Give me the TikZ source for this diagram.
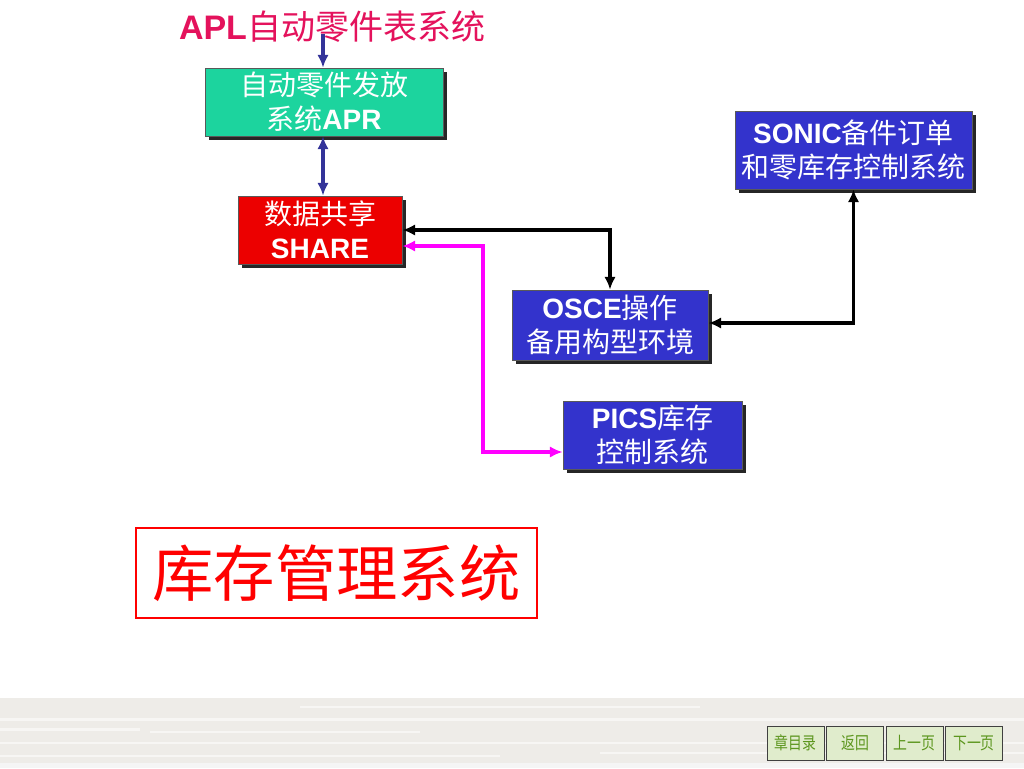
\documentclass[tikz,border=0pt]{standalone}
\usepackage{fontspec}
\setmainfont{Liberation Sans}
\newfontfamily\cjk{Noto Sans CJK SC}
\newfontfamily\cjknarrow[FakeStretch=0.8]{Noto Sans CJK SC}
\usetikzlibrary{arrows.meta,shadows,calc}
\newcommand\zhtxt[1]{{\cjk #1}}
\definecolor{titlepink}{RGB}{228,18,92}
\definecolor{aprgreen}{RGB}{28,212,158}
\definecolor{sharered}{RGB}{236,0,0}
\definecolor{boxblue}{RGB}{51,51,204}
\definecolor{arrblue}{RGB}{51,51,153}
\definecolor{magline}{RGB}{255,0,255}
\definecolor{btnfill}{RGB}{224,236,204}
\definecolor{btntext}{RGB}{92,150,30}
\definecolor{bandgray}{RGB}{238,236,232}
\begin{document}
\begin{tikzpicture}[x=0.75pt,y=-0.75pt,
  sysbox/.style={draw=black!65, line width=0.6pt, inner sep=0pt, text=white, align=center,
    font=\fontsize{21}{25.5}\selectfont,
    drop shadow={shadow xshift=3pt,shadow yshift=-3pt,fill=black!85,opacity=1}},
  tip/.style={-{Latex[length=9.5pt,width=8.5pt]}},
  conn/.style={line width=2.4pt, {Latex[length=9.5pt,width=8.5pt]}-{Latex[length=9.5pt,width=8.5pt]}},
  navbtn/.style={draw=black!75, line width=0.7pt, fill=btnfill, text=btntext, inner sep=0pt,
    minimum width=42.75pt, minimum height=25.5pt, font=\cjknarrow\fontsize{13}{13}\selectfont},
  stripe/.style={fill=white, opacity=0.55}
]
\useasboundingbox (0,0) rectangle (1024,768);
\fill[white] (0,0) rectangle (1024,768);
% bottom band
\fill[bandgray] (0,698) rectangle (1024,768);
\fill[stripe] (0,718) rectangle (1024,721);
\fill[stripe] (0,728) rectangle (140,731);
\fill[stripe] (150,731) rectangle (420,733);
\fill[stripe] (0,742) rectangle (1024,744);
\fill[stripe] (300,706) rectangle (700,708);
\fill[stripe] (0,755) rectangle (500,757);
\fill[stripe] (600,752) rectangle (1024,754);
\fill[black!4] (0,763) rectangle (1024,768);

% title
\node[text=titlepink, font=\fontsize{25.5}{28}\selectfont, inner sep=0pt] (title) at (332,27)
  {\textbf{APL}\zhtxt{自动零件表系统}};
\coordinate (t1) at (323,34);

% boxes
\node[sysbox, fill=aprgreen, minimum width=178.5pt, minimum height=51pt] (apr) at (324,102)
  {\zhtxt{自动零件发放}\\\zhtxt{系统}\textbf{APR}};
\node[sysbox, fill=sharered, minimum width=123pt, minimum height=51pt] (share) at (320,230)
  {\zhtxt{数据共享}\\\textbf{SHARE}};
\node[sysbox, fill=boxblue, minimum width=147pt, minimum height=52.5pt] (osce) at (610,325)
  {\textbf{OSCE}\zhtxt{操作}\\\zhtxt{备用构型环境}};
\node[sysbox, fill=boxblue, minimum width=177.75pt, minimum height=58.5pt] (sonic) at (853.5,150)
  {\textbf{SONIC}\zhtxt{备件订单}\\\zhtxt{和零库存控制系统}};
\node[sysbox, fill=boxblue, minimum width=134.25pt, minimum height=51pt] (pics) at (652.5,435)
  {\textbf{PICS}\zhtxt{库存}\\\zhtxt{控制系统}};

% big label
\node[draw=red, line width=2.2pt, text=red, minimum width=300.75pt, minimum height=67.5pt,
  inner sep=0pt, font=\cjk\fontsize{46}{50}\selectfont] (big) at (336.5,573) {库存管理系统};

% connectors
\draw[arrblue, line width=2.4pt, tip] (t1) -- (t1 |- apr.north);
\draw[arrblue, conn] (t1 |- apr.south) -- (t1 |- share.north);
\draw[black, conn] (share.east) -| (osce.north);
\coordinate (m1) at (483,452);
\draw[magline, conn] ([yshift=-12pt]share.east) -| (m1) -- (m1 -| pics.west);
\draw[black, conn] ([yshift=1.5pt]osce.east) -| (sonic.south);

% nav buttons
\node[navbtn] (b1) at (795.5,743) {章目录};
\node[navbtn] (b2) at (855,743) {返回};
\node[navbtn] (b3) at (914.5,743) {上一页};
\node[navbtn] (b4) at (974,743) {下一页};
\end{tikzpicture}
\end{document}
